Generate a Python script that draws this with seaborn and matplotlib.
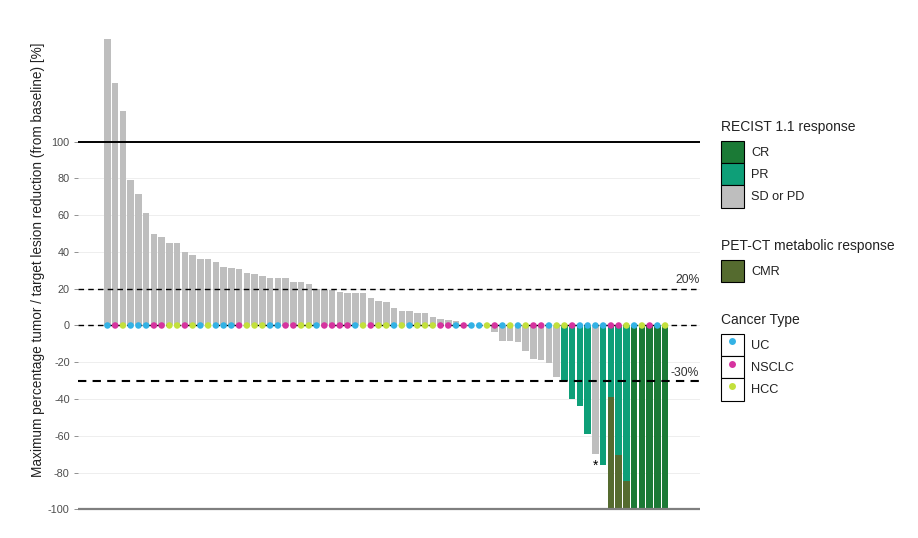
import numpy as np
import pandas as pd
import matplotlib
matplotlib.use("Agg")
import matplotlib.pyplot as plt
import seaborn as sns
from matplotlib.patches import Patch
from matplotlib.lines import Line2D

# ---------------- data ----------------
values = [155.5, 132, 116.7, 79, 71.5, 61.3, 49.6, 48.1, 44.7, 44.7,
          40.1, 38.3, 36.3, 36.2, 34.3, 31.6, 31.3, 30.9, 28.7, 27.8,
          26.9, 25.8, 25.8, 25.8, 23.6, 23.6, 22.6, 19.8, 19.5, 19.5,
          18.4, 17.8, 17.8, 17.8, 15.1, 13.5, 12.8, 9.5, 8.1, 8.1,
          7.0, 6.6, 4.8, 3.4, 3.0, 2.4, 0, 0, 0, 0,
          -3.4, -8.3, -8.3, -8.8, -13.7, -18.2, -18.8, -20.2, -27.8, -30,
          -40.1, -43.6, -59.1, -70, -75.8, -38.8, -70.4, -84.7, -100, -100,
          -100, -100, -100]
response = (["SD or PD"] * 59 + ["PR"] * 4 + ["SD or PD"] + ["PR"] * 4 + ["CR"] * 5)
cancer = ["UC", "NSCLC", "HCC", "UC", "UC", "UC", "NSCLC", "NSCLC", "HCC", "HCC",
          "NSCLC", "HCC", "UC", "HCC", "UC", "UC", "UC", "NSCLC", "HCC", "HCC",
          "HCC", "UC", "UC", "NSCLC", "NSCLC", "HCC", "HCC", "UC", "NSCLC", "NSCLC",
          "NSCLC", "NSCLC", "UC", "HCC", "NSCLC", "HCC", "HCC", "UC", "HCC", "UC",
          "HCC", "HCC", "HCC", "NSCLC", "NSCLC", "UC", "NSCLC", "UC", "UC", "HCC",
          "NSCLC", "UC", "HCC", "UC", "HCC", "NSCLC", "NSCLC", "UC", "HCC", "HCC",
          "NSCLC", "UC", "UC", "UC", "UC", "NSCLC", "NSCLC", "HCC", "UC", "HCC",
          "NSCLC", "UC", "HCC"]
cmr_patients = [65, 66, 67]
cmr_values = [-100, -100, -100]
star_patient = 63
star_value = -76.5

y_ticks = [100, 80, 60, 40, 20, 0, -20, -40, -60, -80, -100]

resp_colors = {"CR": "#1B7A36", "PR": "#0E9F78", "SD or PD": "#BEBEBE"}
cmr_color = "#556B2F"
cancer_colors = {"UC": "#33B2E5", "NSCLC": "#D6339F", "HCC": "#C3E03C"}

positions = list(range(len(values)))
df = pd.DataFrame({"pos": positions, "value": values,
                   "response": response, "cancer": cancer})
df_cmr = pd.DataFrame({"pos": cmr_patients, "value": cmr_values})

# ---------------- figure ----------------
sns.set_theme(style="white")
plt.rcParams["font.family"] = ["Liberation Sans", "DejaVu Sans"]

fig = plt.figure(figsize=(9.18, 5.38), dpi=100)
ax = fig.add_axes([78 / 918, 1 - 511.3 / 538, (700 - 78) / 918, (511.3 - 34.8) / 538])

for t in y_ticks:
    ax.axhline(t, color="#EBEBEB", lw=0.6, zorder=0)

# CMR bars (behind)
sns.barplot(data=df_cmr, x="pos", y="value", order=positions, color=cmr_color,
            width=0.84, saturation=1, ax=ax, zorder=1, errorbar=None, linewidth=0)
# response bars
sns.barplot(data=df, x="pos", y="value", order=positions, hue="response",
            palette=resp_colors, dodge=False, width=0.84, saturation=1, ax=ax,
            legend=False, zorder=1.5, errorbar=None, linewidth=0)

# reference lines
ax.axhline(100, color="black", lw=1.4, zorder=3)
ax.axhline(20, color="black", lw=1.0, ls=(0, (4, 3)), zorder=3)
ax.axhline(0, color="black", lw=1.0, ls=(0, (4, 3)), zorder=3)
ax.axhline(-30, color="black", lw=1.5, ls=(0, (4, 3)), zorder=3)
ax.axhline(-100, color="#7F7F7F", lw=1.6, zorder=3)

# cancer-type markers at baseline
sns.scatterplot(x=df["pos"], y=np.zeros(len(df)), hue=df["cancer"],
                palette=cancer_colors, s=22, linewidth=0, marker="o",
                legend=False, ax=ax, zorder=4)

ax.text(star_patient, star_value, "*", ha="center", va="center",
        fontsize=10, color="black", zorder=5)
ax.text(76.4, 24.5, "20%", ha="right", va="center", fontsize=8.7, color="#333333")
ax.text(76.4, -26.0, "-30%", ha="right", va="center", fontsize=8.7, color="#333333")

ax.set_xlim(-3.8, 76.5)
ax.set_ylim(-101, 158)
ax.set_yticks(y_ticks)
ax.set_yticklabels([str(t) for t in y_ticks], fontsize=7.8, color="#4D4D4D")
ax.tick_params(axis="y", length=3, width=0.6, color="#7F7F7F", pad=3, left=True)
ax.set_xticks([])
ax.set_xlabel("")
ax.set_ylabel("Maximum percentage tumor / target lesion reduction (from baseline) [%]",
              fontsize=9.8, color="#222222")
ax.yaxis.set_label_coords(-0.053, 0.527)
for sp in ax.spines.values():
    sp.set_visible(False)

# ---------------- legends ----------------
fs = 9.2
common = dict(frameon=False, loc="upper left", borderpad=0, borderaxespad=0,
              labelspacing=0, handlelength=1.78, handleheight=2.3,
              handletextpad=0.6, fontsize=fs, title_fontsize=10,
              alignment="left")

h1 = [Patch(facecolor=resp_colors[k], edgecolor="black", lw=0.8) for k in ["CR", "PR", "SD or PD"]]
leg1 = fig.legend(h1, ["CR", "PR", "SD or PD"], title="RECIST 1.1 response",
                  bbox_to_anchor=(721 / 918, 1 - 120 / 538), **common)

h2 = [Patch(facecolor=cmr_color, edgecolor="black", lw=0.8)]
leg2 = fig.legend(h2, ["CMR"], title="PET-CT metabolic response",
                  bbox_to_anchor=(721 / 918, 1 - 239 / 538), **common)

h3 = [(Patch(facecolor="white", edgecolor="black", lw=0.8),
       Line2D([], [], ls="none", marker="o", markersize=5,
              markerfacecolor=cancer_colors[k], markeredgewidth=0))
      for k in ["UC", "NSCLC", "HCC"]]
leg3 = fig.legend(h3, ["UC", "NSCLC", "HCC"], title="Cancer Type",
                  bbox_to_anchor=(721 / 918, 1 - 313 / 538), **common)
for lg in (leg1, leg2, leg3):
    lg._legend_box.sep = 5
    lg.get_title().set_color("#222222")
    for t in lg.get_texts():
        t.set_color("#222222")

fig.savefig("out.png", dpi=100)
